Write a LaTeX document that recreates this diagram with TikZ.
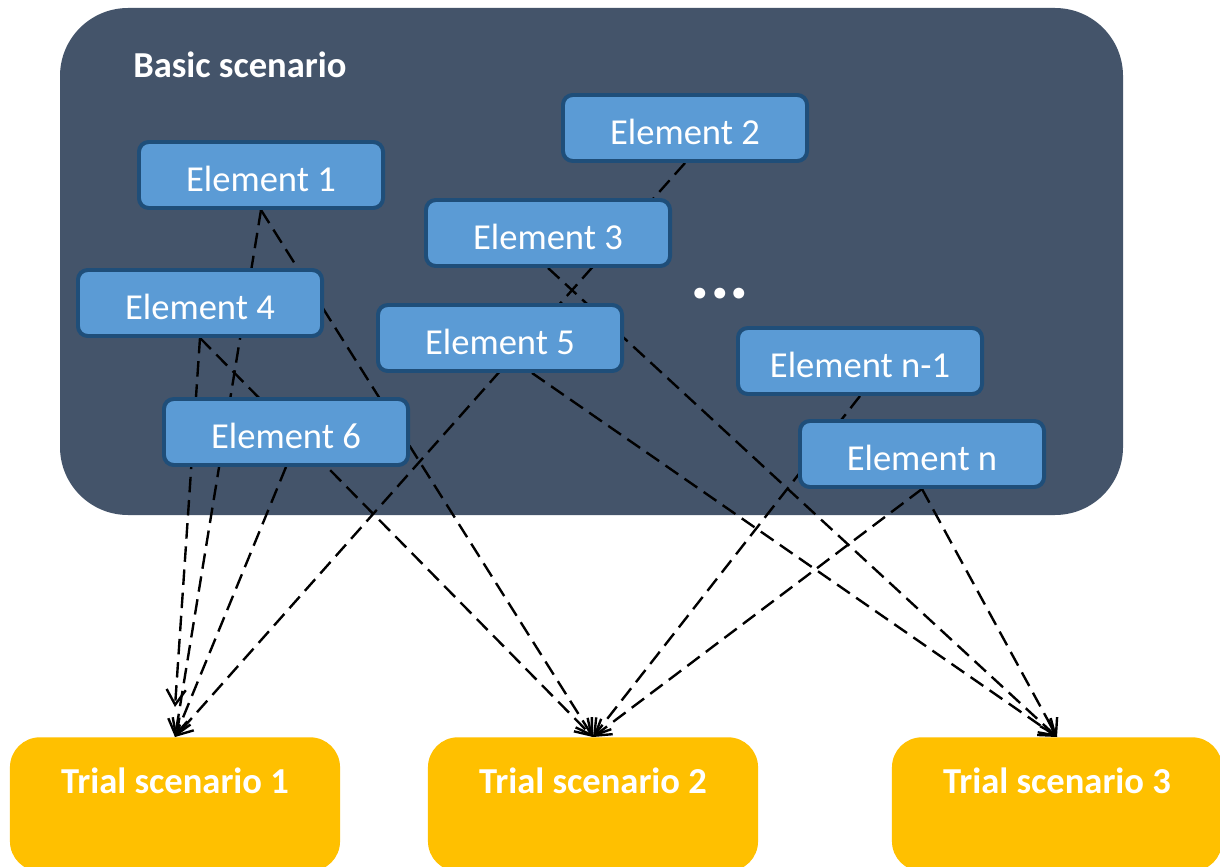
\documentclass[tikz,border=0pt]{standalone}
\usepackage{fontspec}
\setmainfont{Carlito}
\usepackage{xcolor}
\usepackage{tikz}
\usetikzlibrary{arrows.meta,positioning}
\definecolor{slate}{HTML}{44546A}
\definecolor{elemblue}{HTML}{5B9BD5}
\definecolor{elemedge}{HTML}{1F4E79}
\definecolor{trialgold}{HTML}{FFC000}
\pgfdeclarelayer{background}
\pgfdeclarelayer{links}
\pgfsetlayers{background,links,main}
\tikzset{
	element/.style ={rectangle, rounded corners=7pt, draw=elemedge, line width=2.8pt, fill=elemblue, text=white, minimum width=6.1cm, minimum height=1.65cm, text height=0.8cm, text depth=0cm, font=\fontsize{26}{31}\selectfont},
	trial/.style ={rectangle, rounded corners=0.75cm, fill=trialgold, text=white, anchor=north, minimum width=8.25cm, inner ysep=0.4cm, text height=1.0cm, text depth=1.55cm, font=\fontsize{26}{31}\selectfont\bfseries},
	title/.style = {text=white, inner sep=0pt, font=\fontsize{26}{31}\selectfont\bfseries},
	dots/.style = {text=white, inner sep=0pt, anchor=base, font=\fontsize{52}{60}\selectfont\bfseries},
	link/.style={-{Straight Barb[length=3.8mm,width=4.8mm]}, dash pattern=on 11pt off 5.5pt, line width=1.7pt}
}

\begin{document}
\begin{tikzpicture}[x=0.025cm, y=-0.025cm]
    \useasboundingbox (0,0) rectangle (1220,866);
    \begin{pgfonlayer}{background}
    \fill[white] (0,0) rectangle (1220,866);
    \fill[slate, rounded corners=1.7cm] (60,8) rectangle (1123,515);
    \end{pgfonlayer}
    \node[title, anchor=base west] (basic) at (133,78) {Basic scenario};

    \node[element] (e1) at (261,175) {Element 1};
    \node[element] (e2) at (685,128) {Element 2};
    \node[element] (e3) at (548,233) {Element 3};
    \node[element] (e4) at (200,303) {Element 4};
    \node[element] (e5) at (500,338) {Element 5};
    \node[element] (e6) at (286,432) {Element 6};
    \node[element] (en1) at (860,361) {Element n-1};
    \node[element] (en) at (922,454) {Element n};
    \node[dots] (more) at (720,298) {...};

    \node[trial] (t1) at (175,737) {Trial scenario 1};
    \node[trial] (t2) at (593,737) {Trial scenario 2};
    \node[trial] (t3) at (1057,737) {Trial scenario 3};

    \begin{pgfonlayer}{links}
    \draw[link] (e1.south) -- (t1.north);
    \draw[link] (e1.south) -- (t2.north);
    \draw[link] (e2.south) -- (t1.north);
    \draw[link] (e3.south) -- (t3.north);
    \draw[link] (e4.south) -- ([yshift=0.75cm]t1.north);
    \draw[link] (e4.south) -- (t2.north);
    \draw[link] ([xshift=0.8cm]e5.south) -- (t3.north);
    \draw[link] (e6.south) -- (t1.north);
    \draw[link] (en1.south) -- (t2.north);
    \draw[link] (en.south) -- (t2.north);
    \draw[link] (en.south) -- (t3.north);
    \end{pgfonlayer}
\end{tikzpicture}
\end{document}
